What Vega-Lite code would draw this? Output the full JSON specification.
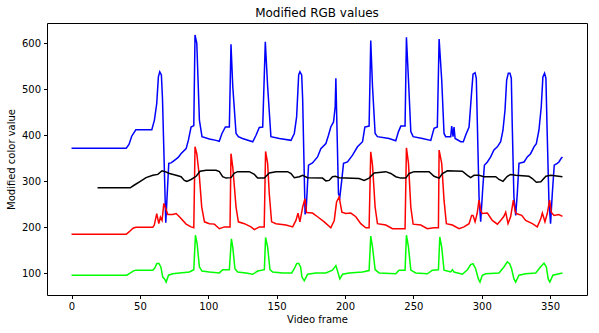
{
"$schema":"https://vega.github.io/schema/vega-lite/v6.json",
"autosize":"none",
"width":540,"height":272,
"padding":{"left":47,"top":23,"right":12,"bottom":38},
"background":"white",
"title":{"text":"Modified RGB values","fontSize":12,"fontWeight":"normal","font":"DejaVu Sans","color":"#000","offset":3},
"config":{"font":"DejaVu Sans","view":{"stroke":"#000","strokeWidth":1},
"axis":{"grid":false,"domain":false,"labelFontSize":10,"titleFontSize":10,"titleFontWeight":"normal","labelColor":"#000","titleColor":"#000","tickColor":"#000","tickSize":3.5,"labelPadding":3,"labelFont":"DejaVu Sans","titleFont":"DejaVu Sans"}},
"datasets":{
"b":[[0,372],[40,372],[42,380],[44,398],[47,412],[58.7,412],[60.6,433],[62.3,469],[63.5,527],[64.5,538],[65.7,531],[66.5,480],[68.9,210],[71.1,339],[72.8,340],[75,345],[78,352],[80,360],[83.8,371],[85.5,390],[87.4,418],[89.4,421],[90.3,618],[91.6,600],[93.5,433],[95.4,397],[100.8,392],[105.7,389],[108,387],[110,404],[112.5,418],[115.4,418],[116.6,598],[117.9,506],[120.3,404],[122,397],[125,393],[132.5,386],[134.9,400],[137.3,417],[139.8,418],[141.7,603],[143.4,506],[145.8,397],[152,393],[160.5,389],[162.9,404],[164.6,440],[166.1,531],[167,538],[168.3,531],[169,480],[170.8,228],[171.6,240],[173.3,335],[176.2,340],[179.9,353],[182.3,371],[186,382],[187.9,400],[189.6,418],[191.6,429],[192.8,462],[193.3,524],[194,430],[195.2,273],[196.2,266],[197.5,300],[198.9,339],[201.8,342],[205.5,357],[209.1,375],[212.8,386],[214.5,418],[217.6,420],[218.8,606],[220.1,506],[222,404],[223.7,397],[232.2,393],[237.1,388],[239.1,408],[240.8,420],[243.9,420],[244.9,613],[246.4,520],[248.1,408],[249.8,397],[256.6,393],[262.7,389],[265.1,415],[267.5,418],[268.8,609],[270.7,520],[272.4,404],[273.6,397],[277.3,397],[278,420],[279,397],[279.7,418],[280.5,393],[284.6,386],[286.5,386],[288.2,400],[290.7,418],[292.6,495],[293.6,533],[295.1,536],[296,524],[296.8,420],[298,266],[299.2,212],[300.5,275],[301.9,335],[304.1,342],[306.5,353],[308.9,368],[311.4,375],[313.8,386],[315.5,411],[317,455],[318.2,520],[319.4,535],[320.6,535],[321.6,524],[322.3,420],[323.5,266],[324.8,226],[326,275],[327.2,339],[330.9,342],[333.3,353],[335.7,360],[338.2,375],[339.9,382],[341.8,411],[343.5,462],[344.7,527],[345.9,535],[346.9,524],[347.8,410],[349.1,259],[350.3,208],[351.5,270],[353,335],[355.2,339],[356.4,342],[358.1,350],[359,353]],
"r":[[0,185],[40,185],[42,190],[45,198],[47,200],[59.4,200],[60.5,205],[62.3,230],[63.8,208],[65,222],[66.2,215],[67.5,252],[69,240],[70.4,228],[74,228],[76.5,230],[78.9,223],[83.8,207],[87.4,201],[89.4,199],[90.3,375],[91.6,360],[93.5,310],[95.2,244],[97.2,212],[100.8,208],[104.5,207],[108.1,197],[111.8,201],[115.9,201],[116.6,360],[117.9,331],[120.3,244],[122,212],[126.4,208],[131.2,201],[133.7,195],[137.3,201],[140.9,201],[141.9,365],[143.4,339],[144.6,273],[146.3,212],[149.5,208],[156.8,205],[161.7,201],[164.1,215],[165.6,231],[167,212],[169,244],[170.7,262],[171.9,232],[176.2,231],[179.9,223],[184.8,212],[189.6,199],[192.1,215],[193.8,255],[195.7,266],[197.7,233],[200.6,230],[204.2,231],[207.9,223],[211.5,208],[215.2,199],[217.6,199],[218.8,364],[220.1,335],[222,244],[223.7,208],[229.8,205],[234.7,197],[239.5,197],[243.9,197],[244.9,373],[246.4,339],[248.1,244],[249.8,207],[255.4,205],[260.2,197],[265.1,199],[268.3,199],[268.8,368],[270.7,339],[272.4,259],[274.1,208],[278.5,205],[283.4,197],[287,201],[290.7,208],[292.6,226],[293.6,226],[295.1,212],[296.6,230],[298,259],[299.2,237],[300.4,230],[304.1,231],[307.7,215],[311.4,207],[313.8,215],[316.2,224],[317.5,233],[319.2,208],[321.1,223],[323.1,259],[324.3,237],[325.2,230],[329.2,226],[332.1,215],[337,208],[340.6,201],[343.2,219],[344.3,231],[346.2,212],[347.9,230],[349.6,259],[350.8,233],[352.8,226],[356.4,228],[359,224]],
"g":[[0,96],[40.4,96],[42.5,100],[45,105],[47,107],[59.4,107],[61,112],[62.3,121],[63.8,122],[65.3,114],[66.7,92],[68,88],[69.2,81],[70.9,96],[74,99],[78.9,101],[86.2,103],[89.4,108],[90.6,183],[91.8,165],[93.5,114],[95.4,105],[100.8,103],[108.1,101],[110.5,108],[115.4,108],[116.9,175],[117.9,157],[119.5,110],[121.5,103],[127.6,101],[132.5,98],[136.1,105],[141,108],[141.9,178],[143.4,157],[145.1,108],[147.1,103],[154.4,101],[161,101],[162.9,110],[164.6,121],[166.1,122],[167.5,114],[168.5,92],[170.2,84],[172.6,98],[178.7,101],[186,101],[190.8,107],[193.3,117],[194.5,105],[196.2,88],[198.2,98],[203,101],[212.8,103],[217.6,106],[218.8,181],[220.1,157],[222,108],[224.9,101],[237.1,99],[239.5,107],[243.9,107],[244.9,183],[246.4,157],[248.1,107],[251.7,101],[260.2,99],[263.9,107],[268.3,108],[269.3,179],[270.7,157],[272.4,107],[277.3,103],[278.5,108],[279.7,103],[285.8,98],[289.5,108],[291.9,119],[293.6,121],[295.5,110],[297.5,88],[298.7,81],[300.4,96],[302.9,99],[312.6,101],[316.2,114],[318.7,125],[320.4,121],[321.8,110],[323.5,88],[324.8,81],[327.2,96],[332.1,99],[339.4,101],[343.2,115],[345.5,122],[347.2,114],[348.6,88],[349.8,81],[352,96],[359,101]],
"k":[[19,286],[42.9,286],[46,292],[49.7,299],[54.5,308],[59.4,313],[63.1,315],[66.2,323],[68.5,321],[71.6,317],[76.5,313],[80.1,310],[82.5,302],[84.3,300],[87.4,304],[91.1,311],[94,322],[98.4,324],[105.7,324],[108.1,321],[110.5,310],[113,307],[116.6,308],[119.1,318],[121.5,321],[130,321],[133.7,315],[136.1,307],[141,307],[144.6,318],[149.5,321],[158,321],[160.5,317],[162.9,308],[166.6,310],[169,313],[172.6,308],[183.5,307],[186,301],[188.4,302],[190.8,310],[193,311],[195.7,308],[210.3,306],[214,302],[217.6,307],[221.3,318],[229.8,321],[233.5,317],[237.1,310],[240.8,307],[244.4,307],[246.9,317],[250.5,321],[261.5,321],[265.1,311],[268.8,307],[271.2,317],[274.9,323],[285.8,322],[289.5,313],[291.9,308],[294.3,313],[298,313],[301.6,310],[310.2,310],[312.6,304],[315.5,300],[318.7,311],[321.1,315],[324.8,313],[334.5,311],[337,306],[339.9,298],[343.2,299],[346.9,311],[350.5,313],[359,310]]
},
"layer":[
{"data":{"name":"b"},"mark":{"type":"line","color":"#0000ff","strokeWidth":1.5,"clip":true},
"encoding":{"x":{"field":"0","type":"quantitative","scale":{"domain":[-17.95,376.95],"nice":false,"zero":false},"axis":{"values":[0,50,100,150,200,250,300,350],"title":"Video frame","titlePadding":3}},
"y":{"field":"1","type":"quantitative","scale":{"domain":[53,644],"nice":false,"zero":false},"axis":{"values":[100,200,300,400,500,600],"title":"Modified color value","titlePadding":5}}}},
{"data":{"name":"r"},"mark":{"type":"line","color":"#ff0000","strokeWidth":1.5,"clip":true},
"encoding":{"x":{"field":"0","type":"quantitative"},"y":{"field":"1","type":"quantitative"}}},
{"data":{"name":"g"},"mark":{"type":"line","color":"#00ff00","strokeWidth":1.5,"clip":true},
"encoding":{"x":{"field":"0","type":"quantitative"},"y":{"field":"1","type":"quantitative"}}},
{"data":{"name":"k"},"mark":{"type":"line","color":"#000000","strokeWidth":1.5,"clip":true},
"encoding":{"x":{"field":"0","type":"quantitative"},"y":{"field":"1","type":"quantitative"}}}
]
}
